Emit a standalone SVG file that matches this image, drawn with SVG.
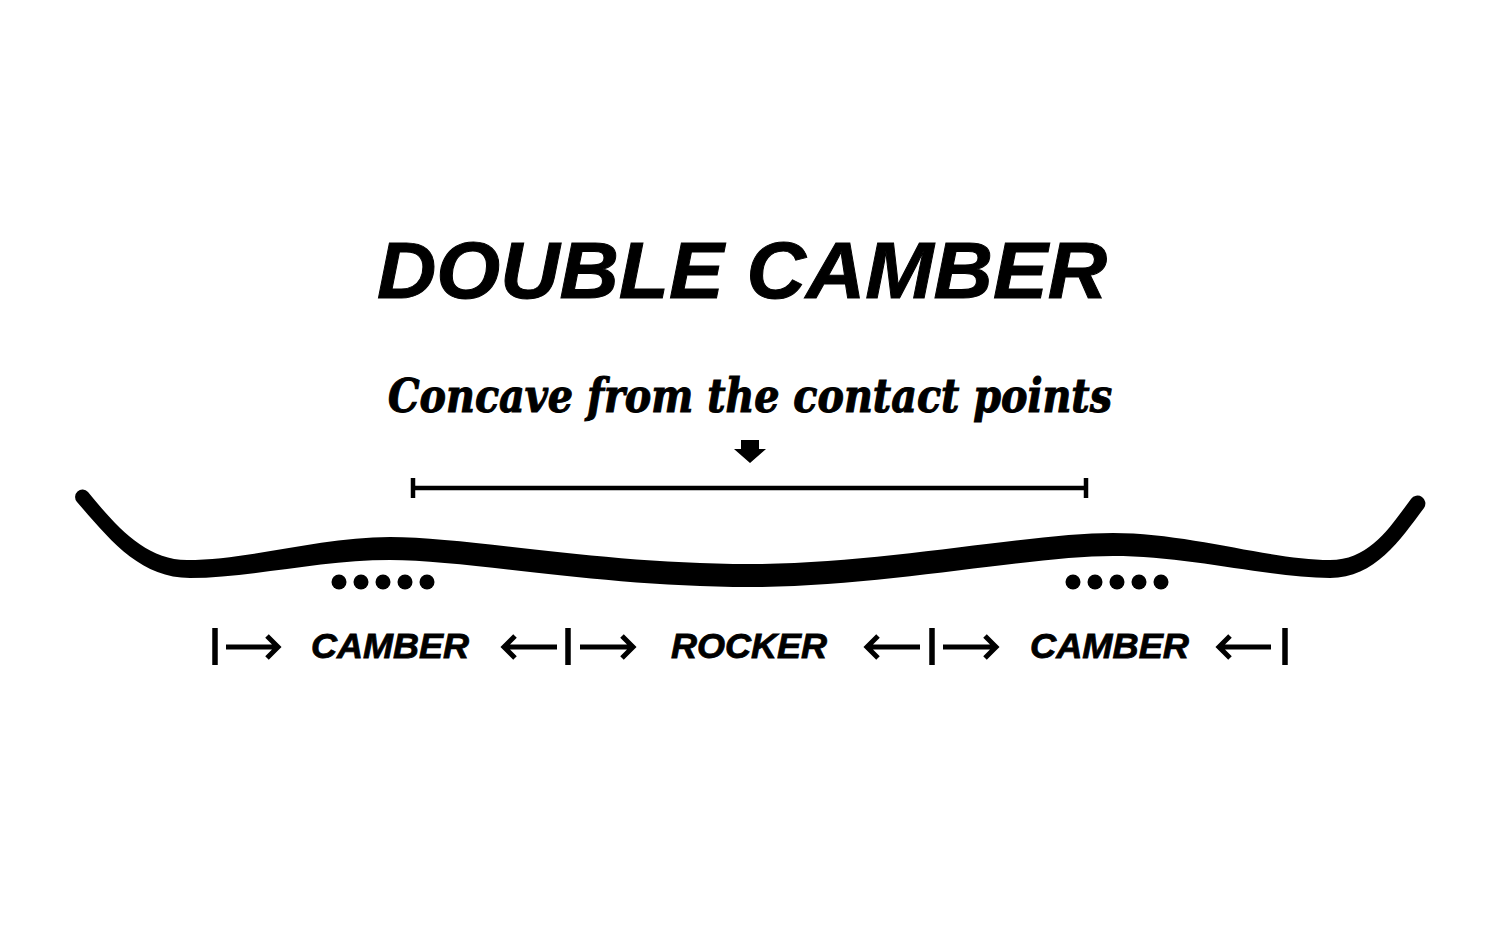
<svg xmlns="http://www.w3.org/2000/svg" width="1500" height="947" viewBox="0 0 1500 947">
<style>
.title{font-family:"Liberation Sans",Arial,sans-serif;font-weight:bold;font-style:italic;fill:#000;stroke:#000;stroke-width:1}
.sub{font-family:"DejaVu Serif Condensed","DejaVu Serif","Liberation Serif",serif;font-weight:bold;font-style:italic;fill:#000;stroke:#000;stroke-width:1}
.lbl{font-family:"Liberation Sans",Arial,sans-serif;font-weight:bold;font-style:italic;font-size:35px;fill:#000;stroke:#000;stroke-width:0.8}
.ln{stroke:#000;fill:none;stroke-width:4.5}
.ar{stroke:#000;fill:none;stroke-width:5}
.bar{stroke:#000;stroke-width:5.5}
.dot{fill:#000}
</style>
<rect width="1500" height="947" fill="#fff"/>
<g id="title"><text class="title" x="377" y="298" font-size="80" textLength="730" lengthAdjust="spacingAndGlyphs">DOUBLE CAMBER</text></g>
<g id="subtitle"><text class="sub" x="388" y="412" font-size="46" textLength="724" lengthAdjust="spacingAndGlyphs">Concave from the contact points</text></g>
<g id="pointer"><path d="M741,440 H759 V449 H766 L750,463 L734,449 H741 Z" fill="#000"/></g>
<g id="span">
<line class="ln" x1="412" y1="488" x2="1087" y2="488"/>
<line class="ln" x1="413" y1="478" x2="413" y2="498"/>
<line class="ln" x1="1086" y1="478" x2="1086" y2="498"/>
</g>
<g id="board">
<path fill="#000" d="M77,502 C110,540 140,578 190,578 C250,578 320,560 390,560 C470,560 600,587 750,587 C880,587 1030,556 1113,556 C1190,556 1270,578 1330,578 C1375,578 1400,540 1424,508 A6.5,6.5 0 0 0 1411,499 C1390,527 1370,560 1330,560 C1270,560 1190,533 1113,533 C1030,533 880,564 750,564 C600,564 470,537 390,537 C320,537 250,560 187,560 C145,560 115,525 88,492 A6.5,6.5 0 0 0 77,502 Z"/>
</g>
<g id="dots-left">
<circle class="dot" cx="339" cy="582" r="7.5"/><circle class="dot" cx="361" cy="582" r="7.5"/><circle class="dot" cx="383" cy="582" r="7.5"/><circle class="dot" cx="405" cy="582" r="7.5"/><circle class="dot" cx="427" cy="582" r="7.5"/>
</g>
<g id="dots-right">
<circle class="dot" cx="1073" cy="582" r="7.5"/><circle class="dot" cx="1095" cy="582" r="7.5"/><circle class="dot" cx="1117" cy="582" r="7.5"/><circle class="dot" cx="1139" cy="582" r="7.5"/><circle class="dot" cx="1161" cy="582" r="7.5"/>
</g>
<g id="label-camber-left"><text class="lbl" x="311" y="658" textLength="158" lengthAdjust="spacingAndGlyphs">CAMBER</text></g>
<g id="label-rocker"><text class="lbl" x="671" y="658" textLength="156" lengthAdjust="spacingAndGlyphs">ROCKER</text></g>
<g id="label-camber-right"><text class="lbl" x="1030" y="658" textLength="159" lengthAdjust="spacingAndGlyphs">CAMBER</text></g>
<g id="connectors">
<line class="bar" x1="215" y1="628" x2="215" y2="665"/>
<line class="bar" x1="568" y1="628" x2="568" y2="665"/>
<line class="bar" x1="932" y1="628" x2="932" y2="665"/>
<line class="bar" x1="1285" y1="628" x2="1285" y2="665"/>
<path class="ar" d="M226,647 H278 M267,636 L278,647 L267,658"/>
<path class="ar" d="M557,647 H504 M515,636 L504,647 L515,658"/>
<path class="ar" d="M580,647 H633 M622,636 L633,647 L622,658"/>
<path class="ar" d="M920,647 H867 M878,636 L867,647 L878,658"/>
<path class="ar" d="M943,647 H996 M985,636 L996,647 L985,658"/>
<path class="ar" d="M1271,647 H1219 M1230,636 L1219,647 L1230,658"/>
</g>
</svg>
